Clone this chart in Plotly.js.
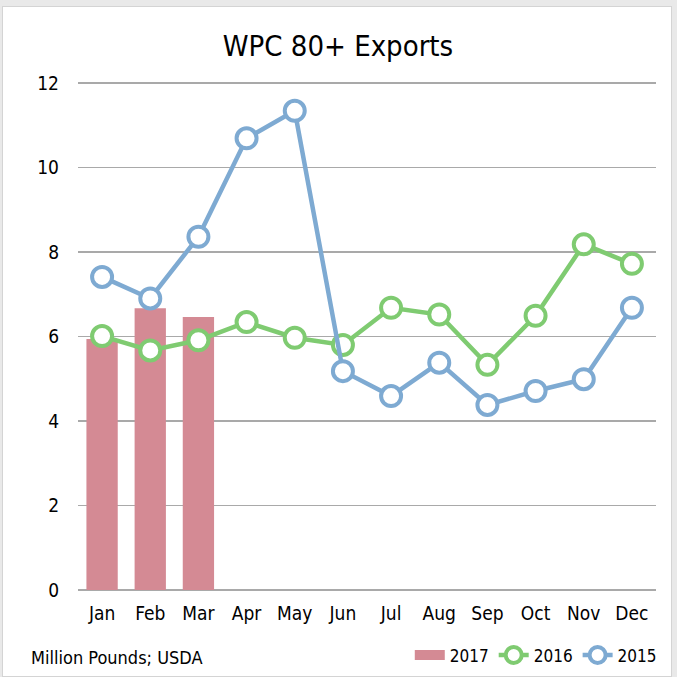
<!DOCTYPE html>
<html>
<head>
<meta charset="utf-8">
<script src="https://cdn.plot.ly/plotly-3.0.1.min.js"></script>
<style>
  body { margin: 0; background: #e9e9e9; }
  #chart { position: absolute; left: 2px; top: 6px; width: 670px; height: 671px; background: #fff; border: 1px solid #d4d4d4; box-sizing: border-box; }
</style>
</head>
<body>
<div id="chart"></div>
<script>
var months = ['Jan', 'Feb', 'Mar', 'Apr', 'May', 'Jun', 'Jul', 'Aug', 'Sep', 'Oct', 'Nov', 'Dec'];
var exports2017 = [5.94, 6.67, 6.46];
var exports2016 = [6.01, 5.67, 5.91, 6.34, 5.97, 5.80, 6.68, 6.52, 5.33, 6.49, 8.18, 7.72];
var exports2015 = [7.41, 6.90, 8.36, 10.69, 11.34, 5.18, 4.59, 5.38, 4.38, 4.71, 4.99, 6.68];
var yTicks = [0, 2, 4, 6, 8, 10, 12];

var fontFam = '"DejaVu Sans Condensed", "DejaVu Sans", sans-serif';
var barColor = '#d48a94';

var bar17 = {
  x: months.slice(0, exports2017.length),
  y: exports2017,
  type: 'bar',
  name: '2017',
  width: 0.65,
  showlegend: false,
  marker: { color: barColor }
};

// wide swatch for the legend, draws nothing on the plot
var bar17Key = {
  x: months.slice(0, exports2017.length),
  y: exports2017.map(function () { return null; }),
  type: 'scatter',
  mode: 'lines',
  name: '2017',
  line: { color: barColor, width: 12 }
};

function lineTrace(vals, name, color) {
  return {
    x: months,
    y: vals,
    type: 'scatter',
    mode: 'lines+markers',
    name: name,
    line: { color: color, width: 4.5 },
    marker: { symbol: 'circle', size: 20, color: '#ffffff', line: { color: color, width: 4 } }
  };
}

var data = [
  bar17,
  bar17Key,
  lineTrace(exports2016, '2016', '#7fcb71'),
  lineTrace(exports2015, '2015', '#7eaad2')
];

var layout = {
  width: 670,
  height: 671,
  margin: { l: 75, r: 17, t: 73, b: 88, autoexpand: false },
  paper_bgcolor: 'rgba(0,0,0,0)',
  plot_bgcolor: '#ffffff',
  font: { family: fontFam, size: 19, color: '#000' },
  title: { text: 'WPC 80+ Exports', font: { family: fontFam, size: 29, color: '#000' }, x: 0.5, xanchor: 'center', y: 0.942, yanchor: 'middle' },
  showlegend: true,
  legend: {
    orientation: 'h', x: 1.01, xanchor: 'right', y: -0.093, yanchor: 'top',
    font: { family: fontFam, size: 17 }, traceorder: 'normal', itemwidth: 30
  },
  xaxis: {
    type: 'category',
    range: [-0.5, 11.5],
    showgrid: false,
    showline: false,
    ticks: '',
    ticklabelstandoff: 10,
    tickfont: { family: fontFam, size: 19 }
  },
  yaxis: {
    range: [0, 12.07],
    tickvals: yTicks,
    ticktext: yTicks.map(String),
    showgrid: true,
    gridcolor: '#a9a9a9',
    gridwidth: 1.5,
    zeroline: true,
    zerolinecolor: '#a9a9a9',
    zerolinewidth: 1.5,
    showline: false,
    ticks: '',
    ticklabelstandoff: 18,
    tickfont: { family: fontFam, size: 19 }
  },
  annotations: [{
    text: 'Million Pounds; USDA',
    xref: 'paper', yref: 'paper',
    x: -0.085, xanchor: 'left',
    y: -0.108, yanchor: 'top',
    showarrow: false,
    font: { family: fontFam, size: 18, color: '#000' }
  }]
};

Plotly.newPlot('chart', data, layout, { displayModeBar: false, staticPlot: true });
</script>
</body>
</html>
